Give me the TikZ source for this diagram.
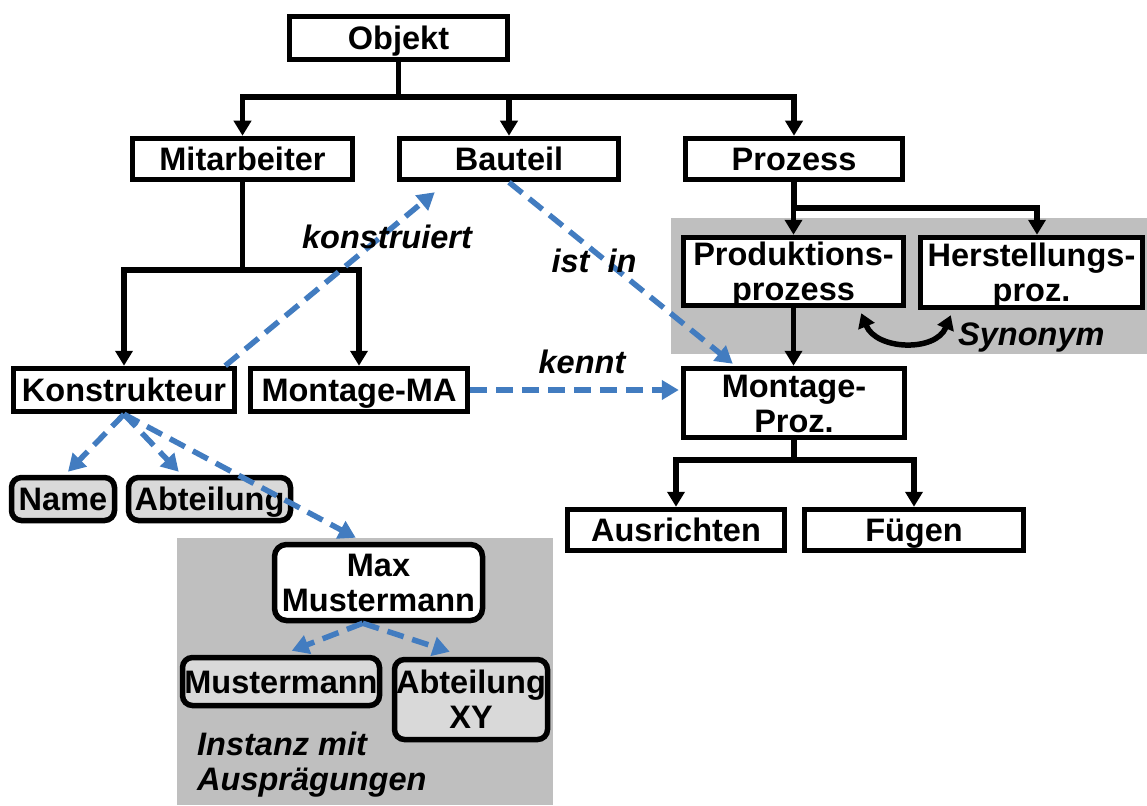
\documentclass[tikz,border=0pt]{standalone}
\usepackage{fontspec}
\setmainfont{Liberation Sans}
\usetikzlibrary{arrows.meta,calc,backgrounds}
\definecolor{relblue}{RGB}{66,124,192}
\definecolor{regiongray}{RGB}{191,191,191}
\definecolor{attrgray}{RGB}{217,217,217}
\begin{document}
\begin{tikzpicture}[x=1pt,y=-1pt,
  every node/.style={font=\fontsize{32.5}{35}\selectfont\bfseries},
  box/.style={draw, line width=5.5pt, fill=white, inner sep=0pt, align=center,
    text height=23pt, text depth=0pt},
  twolines/.style={text height=58pt},
  attr/.style={box, rounded corners=10pt, fill=attrgray},
  inst/.style={box, rounded corners=12pt},
  lbl/.style={font=\fontsize{32.5}{35}\selectfont\bfseries\itshape, inner sep=0pt,
    text height=23pt, text depth=0pt},
  conn/.style={line width=5.5pt},
  tarr/.style={conn, -{Triangle[width=17pt,length=15pt]}},
  rel/.style={line width=5.5pt, draw=relblue, dash pattern=on 17pt off 9pt,
    -{Triangle[width=19pt,length=17pt,fill=relblue]}},
  syn/.style={line width=5.5pt, {Triangle[width=17pt,length=14pt]}-{Triangle[width=17pt,length=14pt]}}
]
\useasboundingbox (0,0) rectangle (1147,805);

% class hierarchy
\node[box, minimum width=218, minimum height=43] (obj)  at (398.5,38)  {Objekt};
\node[box, minimum width=220, minimum height=41] (mit)  at (242.5,159) {Mitarbeiter};
\node[box, minimum width=219, minimum height=41] (bau)  at (509,159)   {Bauteil};
\node[box, minimum width=217, minimum height=41] (proz) at (794,159)   {Prozess};
\node[box, minimum width=221, minimum height=43] (kon)  at (124,390)   {Konstrukteur};
\node[box, minimum width=217, minimum height=43] (mma)  at (359,390)   {Montage-MA};
\node[box, twolines, minimum width=220, minimum height=68] (prod) at (793.5,271.5) {Produktions-\\prozess};
\node[box, twolines, minimum width=222, minimum height=70] (her)  at (1031.5,272.5) {Herstellungs-\\proz.};
\node[box, twolines, minimum width=221, minimum height=69] (mon)  at (794,403) {Montage-\\Proz.};
\node[box, minimum width=217, minimum height=41] (aus)  at (676,530)   {Ausrichten};
\node[box, minimum width=219, minimum height=41] (fue)  at (914,530)   {Fügen};

% attributes
\node[attr, minimum width=103, minimum height=43] (name) at (63,499)    {Name};
\node[attr, minimum width=162, minimum height=43] (abt)  at (209.5,499) {Abteilung};

% instance
\node[inst, twolines, minimum width=208, minimum height=76] (max) at (378.5,582.5) {Max\\Mustermann};
\node[attr, minimum width=197, minimum height=48] (must) at (281,681.5) {Mustermann};
\node[attr, twolines, minimum width=153, minimum height=80] (abxy) at (471,699.5) {Abteilung\\XY};

% shaded groups
\begin{pgfonlayer}{background}
  \fill[regiongray] (671,218) rectangle (1147,354);
  \fill[regiongray] (177,538) rectangle (553,805);
\end{pgfonlayer}

% tree connectors
\coordinate (j1) at (398.5,97);
\draw[conn] (obj) -- (j1);
\draw[tarr] (j1) -| (mit);
\draw[tarr] (j1) -| (bau);
\draw[tarr] (j1) -| (proz);

\coordinate (j2) at (242.5,270);
\draw[conn] (mit) -- (j2);
\draw[tarr] (j2) -| (kon);
\draw[tarr] (j2) -| (mma);

\coordinate (j3) at (794,208);
\draw[conn] (proz) -- (j3);
\draw[tarr] (j3) -| (prod);
\draw[tarr] (j3) -| ([xshift=5.5pt]her.north);

\draw[tarr] (prod) -- (prod |- mon.north);

\coordinate (j4) at (794,460);
\draw[conn] (mon) -- (j4);
\draw[tarr] (j4) -| (aus);
\draw[tarr] (j4) -| (fue);

% synonym relation
\draw[syn] ($(prod.south east)+(-45,5)$) .. controls +(15,37) and +(-15,37) .. ($(her.south west)+(33,5)$);
\node[lbl, anchor=west] (synlbl) at (958,334) {Synonym};

% semantic relations
\draw[rel] ($(kon.north east)+(-12,0)$) -- ($(bau.south west)+(38,10)$);
\node[lbl] (konlbl) at (387,237) {konstruiert};
\draw[rel] (bau.south) -- ($(mon.north west)+(52,-2)$);
\node[lbl] (istlbl) at (594,261) {ist~~in};
\draw[rel, shorten >=2pt] (mma.east) -- (mma.east -| mon.west);
\node[lbl] (kenntlbl) at (582,362) {kennt};

\draw[rel] (kon.south) -- ($(name.north)+(5,-3)$);
\draw[rel] (kon.south) -- ($(abt.north west)+(53,-3)$);
\draw[rel] (kon.south) -- ($(max.north west)+(84,-4)$);

\coordinate (mxs) at ($(max.south west)+(91,0)$);
\draw[rel] (mxs) -- ($(must.north west)+(112,-4)$);
\draw[rel] (mxs) -- ($(abxy.north west)+(58,-5)$);

\node[lbl, anchor=west, align=left, text height=58pt] (instlbl) at (197,761.5) {Instanz mit\\Ausprägungen};
\end{tikzpicture}
\end{document}
